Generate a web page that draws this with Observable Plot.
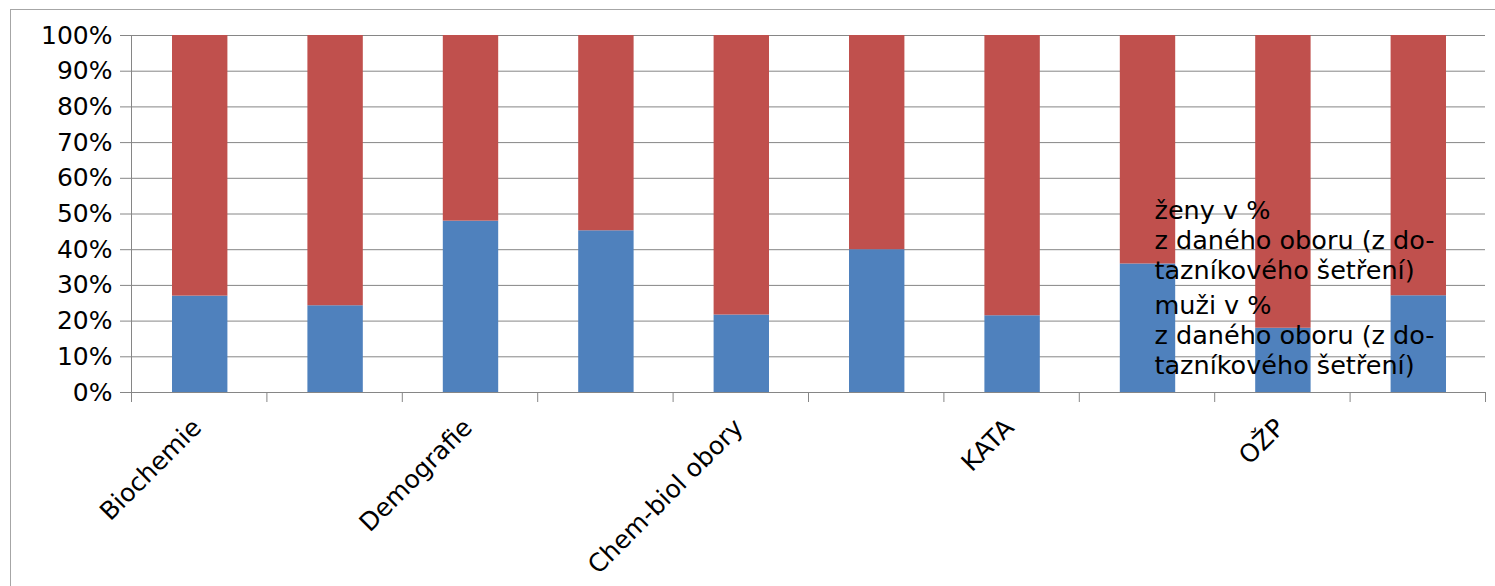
<!DOCTYPE html>
<html>
<head>
<meta charset="utf-8">
<script src="https://cdn.jsdelivr.net/npm/d3@7"></script>
<script src="https://cdn.jsdelivr.net/npm/@observablehq/plot@0.6"></script>
<style>
  body { margin: 0; background: #fff; }
  #wrap { position: relative; width: 1495px; height: 586px; overflow: hidden; }
  #border { position: absolute; left: 10px; top: 9px; width: 1500px; height: 600px; border: 1px solid #a6a6a6; box-sizing: border-box; pointer-events: none; }
  #wrap svg { position: absolute; left: 0; top: 0; }
</style>
</head>
<body>
<div id="wrap"><div id="border"></div></div>
<script>
// Category tick labels (Excel showed only every other label; hidden ones are left blank)
const tickLabels = ["Biochemie", "", "Demografie", "", "Chem-biol obory", "", "KATA", "", "OŽP", ""];
// muži v % z daného oboru (blue, bottom segment)
const muzi = [27, 24.3, 48, 45.3, 21.7, 40, 21.5, 36, 18, 27.1];
// ženy v % z daného oboru (red, top segment)
const zeny = [73, 75.7, 52, 54.7, 78.3, 60, 78.5, 64, 82, 72.9];
const yTicks = [0, 10, 20, 30, 40, 50, 60, 70, 80, 90, 100];
const legendZeny = ["ženy v %", "z daného oboru (z do-", "tazníkového šetření)"];
const legendMuzi = ["muži v %", "z daného oboru (z do-", "tazníkového šetření)"];
const colors = {muzi: "#4F81BD", zeny: "#C0504D"};

const table = [];
tickLabels.forEach((lab, i) => {
  table.push({x1: i, x2: i + 1, y1: 0, y2: muzi[i], fill: colors.muzi});
  table.push({x1: i, x2: i + 1, y1: muzi[i], y2: muzi[i] + zeny[i], fill: colors.zeny});
});
const labelRows = tickLabels.map((t, i) => ({t, xc: i + 0.5})).filter(d => d.t);

const gridColor = "#868686";
const plot = Plot.plot({
  width: 1495,
  height: 586,
  marginLeft: 131,
  marginRight: 10,
  marginTop: 35,
  marginBottom: 194,
  style: {fontFamily: "'DejaVu Sans', sans-serif", fontSize: "25px", background: "transparent", color: "black"},
  x: {domain: [0, 10], axis: null},
  y: {domain: [0, 100], axis: null},
  marks: [
    Plot.gridY(yTicks, {stroke: gridColor, strokeOpacity: 1}),
    Plot.rectY(table, {x1: "x1", x2: "x2", y1: "y1", y2: "y2", fill: "fill", insetLeft: 41, insetRight: 39}),
    Plot.ruleX([0], {stroke: gridColor}),
    Plot.ruleY([0], {stroke: gridColor}),
    Plot.axisY({ticks: yTicks, tickSize: 11, tickPadding: 8, tickFormat: d => d + "%", stroke: gridColor, fill: "black", fontSize: 25}),
    Plot.axisX({ticks: d3.range(0, 11), tickSize: 10, tickFormat: () => "", stroke: gridColor}),
    Plot.text(labelRows, {x: "xc", y: () => 0, text: "t", rotate: -45, textAnchor: "end", lineAnchor: "middle", dx: -2, dy: 31, fontSize: 25, fill: "black"}),
    Plot.text([legendZeny.join("\n")], {frameAnchor: "top-left", text: d => d, lineAnchor: "top", textAnchor: "start", dx: 1023, dy: 162, fontSize: 25.5, lineHeight: 30 / 25.5, fill: "black"}),
    Plot.text([legendMuzi.join("\n")], {frameAnchor: "top-left", text: d => d, lineAnchor: "top", textAnchor: "start", dx: 1023, dy: 257, fontSize: 25.5, lineHeight: 30 / 25.5, fill: "black"})
  ]
});
document.getElementById("wrap").appendChild(plot);
</script>
</body>
</html>
